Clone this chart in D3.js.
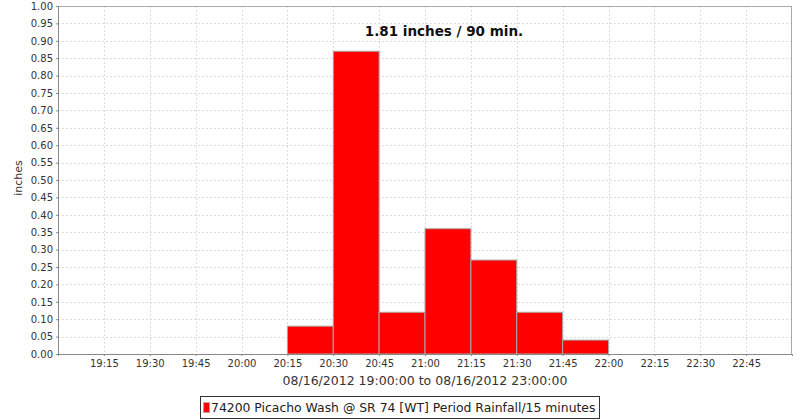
<!DOCTYPE html>
<html>
<head>
<meta charset="utf-8">
<script src="https://cdn.jsdelivr.net/npm/d3@7"></script>
<style>
  html, body { margin: 0; padding: 0; background: #fff; }
  svg { display: block; font-family: "DejaVu Sans", sans-serif; }
</style>
</head>
<body>
<svg id="chart" width="800" height="420"></svg>
<script>
// ---- data ----
const binStarts = ["20:15", "20:30", "20:45", "21:00", "21:15", "21:30", "21:45"];
const rainfall = [0.08, 0.87, 0.12, 0.36, 0.27, 0.12, 0.04];
const xTickLabels = ["19:15", "19:30", "19:45", "20:00", "20:15", "20:30", "20:45", "21:00",
                     "21:15", "21:30", "21:45", "22:00", "22:15", "22:30", "22:45"];
const yTicks = [0.00, 0.05, 0.10, 0.15, 0.20, 0.25, 0.30, 0.35, 0.40, 0.45, 0.50,
                0.55, 0.60, 0.65, 0.70, 0.75, 0.80, 0.85, 0.90, 0.95, 1.00];
const domainStart = "19:00", domainEnd = "23:00";
const binMinutes = 15;
const titleText = "1.81 inches / 90 min.";
const xAxisTitle = "08/16/2012 19:00:00 to 08/16/2012 23:00:00";
const yAxisTitle = "inches";
const legendText = "74200 Picacho Wash @ SR 74 [WT] Period Rainfall/15 minutes";

// ---- layout ----
const svg = d3.select("#chart");
const L = 58, R = 792, T = 6, B = 354;
const parse = d3.timeParse("%Y-%m-%d %H:%M");
const t = s => parse("2012-08-16 " + s);

const x = d3.scaleTime().domain([t(domainStart), t(domainEnd)]).range([L, R]);
const y = d3.scaleLinear().domain([0, 1]).range([B, T]);

// gridlines
const grid = svg.append("g");
grid.selectAll("line.h").data(yTicks.filter(v => v > 0 && v < 1)).join("line")
  .attr("x1", L).attr("x2", R)
  .attr("y1", d => Math.round(y(d)) + 0.5).attr("y2", d => Math.round(y(d)) + 0.5)
  .attr("stroke", "#dcdcdc").attr("stroke-dasharray", "2,2");
grid.selectAll("line.v").data(xTickLabels).join("line")
  .attr("y1", T).attr("y2", B)
  .attr("x1", d => Math.round(x(t(d))) + 0.5).attr("x2", d => Math.round(x(t(d))) + 0.5)
  .attr("stroke", "#dcdcdc").attr("stroke-dasharray", "2,2");

// plot border
svg.append("rect").attr("x", L + 0.5).attr("y", T + 0.5)
  .attr("width", R - L - 1).attr("height", B - T)
  .attr("fill", "none").attr("stroke", "#aaaaaa");

// bars
svg.append("g").selectAll("rect").data(binStarts).join("rect")
  .attr("x", d => x(t(d)))
  .attr("width", d => x(d3.timeMinute.offset(t(d), binMinutes)) - x(t(d)))
  .attr("y", (d, i) => y(rainfall[i]))
  .attr("height", (d, i) => B - y(rainfall[i]))
  .attr("fill", "#ff0000").attr("stroke", "#aaaaaa").attr("stroke-width", 1);

// axes
const xAxis = d3.axisBottom(x)
  .tickValues(xTickLabels.map(t))
  .tickFormat(d3.timeFormat("%H:%M"))
  .tickSize(2).tickPadding(4);
const gx = svg.append("g").attr("transform", `translate(0,${B})`).call(xAxis);
gx.select(".domain").attr("stroke", "#888");
gx.selectAll(".tick line").attr("stroke", "#888");
gx.selectAll("text").attr("font-size", 10).attr("fill", "#333")
  .attr("font-family", "DejaVu Sans, sans-serif");

const yAxis = d3.axisLeft(y).tickValues(yTicks).tickFormat(d3.format(".2f"))
  .tickSize(2).tickPadding(3);
const gy = svg.append("g").attr("transform", `translate(${L},0)`).call(yAxis);
gy.select(".domain").attr("stroke", "#888");
gy.selectAll(".tick line").attr("stroke", "#888");
gy.selectAll("text").attr("font-size", 10).attr("fill", "#333")
  .attr("font-family", "DejaVu Sans, sans-serif");
svg.append("line").attr("x1", L).attr("x2", R).attr("y1", B + 0.5).attr("y2", B + 0.5).attr("stroke", "#888");
svg.append("line").attr("x1", L + 0.5).attr("x2", L + 0.5).attr("y1", T).attr("y2", B).attr("stroke", "#888");

// title inside plot
svg.append("text").attr("x", 444).attr("y", 36).attr("text-anchor", "middle")
  .attr("font-size", 13.5).attr("font-weight", "bold").attr("fill", "#111")
  .text(titleText);

// axis titles
svg.append("text").attr("x", (L + R) / 2).attr("y", 385).attr("text-anchor", "middle")
  .attr("font-size", 12.5).attr("fill", "#333").text(xAxisTitle);
svg.append("text").attr("transform", `translate(22,${178}) rotate(-90)`)
  .attr("text-anchor", "middle").attr("font-size", 11).attr("fill", "#333").text(yAxisTitle);

// legend
const lg = svg.append("g");
lg.append("rect").attr("x", 200.5).attr("y", 396.5).attr("width", 399).attr("height", 22)
  .attr("fill", "#fff").attr("stroke", "#333");
lg.append("rect").attr("x", 203.5).attr("y", 402.5).attr("width", 6).attr("height", 10)
  .attr("fill", "#ff0000").attr("stroke", "#aaaaaa");
lg.append("text").attr("x", 211).attr("y", 412).attr("font-size", 12.4).attr("fill", "#222")
  .text(legendText);
</script>
</body>
</html>
